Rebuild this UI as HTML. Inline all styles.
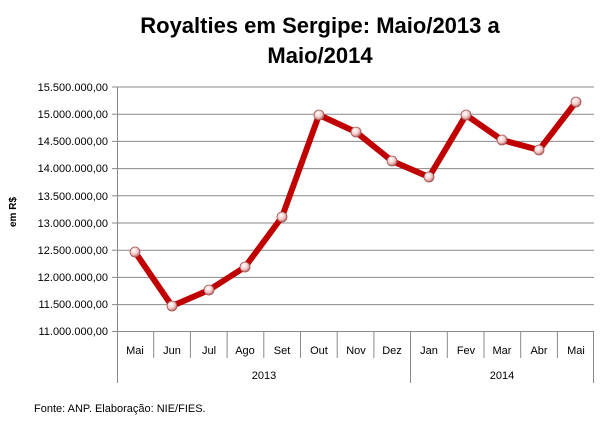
<!DOCTYPE html>
<html><head><meta charset="utf-8"><style>body{margin:0;background:#fff}svg{display:block;font-family:"Liberation Sans",sans-serif}</style></head><body>
<svg width="613" height="427" viewBox="0 0 613 427">
<defs><radialGradient id="g" cx="40%" cy="35%" r="65%"><stop offset="0" stop-color="#fff"/><stop offset="0.6" stop-color="#f3c8c8"/><stop offset="1" stop-color="#b86a6a"/></radialGradient></defs>
<text x="320" y="33" font-size="22" font-weight="bold" text-anchor="middle" fill="#000">Royalties em Sergipe: Maio/2013 a</text>
<text x="320" y="63" font-size="22" font-weight="bold" text-anchor="middle" fill="#000">Maio/2014</text>
<g stroke="#888" stroke-width="1">
<line x1="117" y1="87" x2="594" y2="87"/><line x1="117" y1="114.2" x2="594" y2="114.2"/><line x1="117" y1="141.4" x2="594" y2="141.4"/><line x1="117" y1="168.6" x2="594" y2="168.6"/><line x1="117" y1="195.8" x2="594" y2="195.8"/><line x1="117" y1="223" x2="594" y2="223"/><line x1="117" y1="250.2" x2="594" y2="250.2"/><line x1="117" y1="277.4" x2="594" y2="277.4"/><line x1="117" y1="304.6" x2="594" y2="304.6"/><line x1="117" y1="331.5" x2="594" y2="331.5"/>
<line x1="117.5" y1="87" x2="117.5" y2="383"/><line x1="593.5" y1="331" x2="593.5" y2="383"/><line x1="410.5" y1="331" x2="410.5" y2="383"/>
<line x1="112" y1="87" x2="117" y2="87"/><line x1="112" y1="114.2" x2="117" y2="114.2"/><line x1="112" y1="141.4" x2="117" y2="141.4"/><line x1="112" y1="168.6" x2="117" y2="168.6"/><line x1="112" y1="195.8" x2="117" y2="195.8"/><line x1="112" y1="223" x2="117" y2="223"/><line x1="112" y1="250.2" x2="117" y2="250.2"/><line x1="112" y1="277.4" x2="117" y2="277.4"/><line x1="112" y1="304.6" x2="117" y2="304.6"/><line x1="112" y1="331.5" x2="117" y2="331.5"/>
<line x1="153.7" y1="331" x2="153.7" y2="358"/><line x1="190.4" y1="331" x2="190.4" y2="358"/><line x1="227.1" y1="331" x2="227.1" y2="358"/><line x1="263.8" y1="331" x2="263.8" y2="358"/><line x1="300.5" y1="331" x2="300.5" y2="358"/><line x1="337.2" y1="331" x2="337.2" y2="358"/><line x1="373.9" y1="331" x2="373.9" y2="358"/><line x1="447.3" y1="331" x2="447.3" y2="358"/><line x1="484" y1="331" x2="484" y2="358"/><line x1="520.7" y1="331" x2="520.7" y2="358"/><line x1="557.4" y1="331" x2="557.4" y2="358"/>
</g>
<g font-size="11" fill="#000" text-anchor="end">
<text x="108" y="91">15.500.000,00</text><text x="108" y="118">15.000.000,00</text><text x="108" y="145">14.500.000,00</text><text x="108" y="172">14.000.000,00</text><text x="108" y="200">13.500.000,00</text><text x="108" y="227">13.000.000,00</text><text x="108" y="254">12.500.000,00</text><text x="108" y="281">12.000.000,00</text><text x="108" y="308">11.500.000,00</text><text x="108" y="335">11.000.000,00</text>
</g>
<text transform="translate(16,212) rotate(-90)" font-size="10" font-weight="bold" text-anchor="middle">em R$</text>
<g font-size="11" fill="#000" text-anchor="middle">
<text x="135" y="354">Mai</text><text x="172" y="354">Jun</text><text x="209" y="354">Jul</text><text x="245" y="354">Ago</text><text x="282" y="354">Set</text><text x="319" y="354">Out</text><text x="356" y="354">Nov</text><text x="392" y="354">Dez</text><text x="429" y="354">Jan</text><text x="466" y="354">Fev</text><text x="502" y="354">Mar</text><text x="539" y="354">Abr</text><text x="576" y="354">Mai</text>
<text x="264" y="379">2013</text><text x="502" y="379">2014</text>
</g>
<text x="34" y="412" font-size="11" fill="#000">Fonte: ANP. Elaboração: NIE/FIES.</text>
<polyline fill="none" stroke="#c00000" stroke-width="6" stroke-linejoin="round" points="135,252 172,306 209,290 245,267 282,217 319,115 356,132 392,161 429,177 466,115 502,140 539,150 576,102"/>
<g fill="url(#g)" stroke="#a05050" stroke-width="0.8">
<circle cx="135" cy="252" r="5"/><circle cx="172" cy="306" r="5"/><circle cx="209" cy="290" r="5"/><circle cx="245" cy="267" r="5"/><circle cx="282" cy="217" r="5"/><circle cx="319" cy="115" r="5"/><circle cx="356" cy="132" r="5"/><circle cx="392" cy="161" r="5"/><circle cx="429" cy="177" r="5"/><circle cx="466" cy="115" r="5"/><circle cx="502" cy="140" r="5"/><circle cx="539" cy="150" r="5"/><circle cx="576" cy="102" r="5"/>
</g>
</svg>
</body></html>
